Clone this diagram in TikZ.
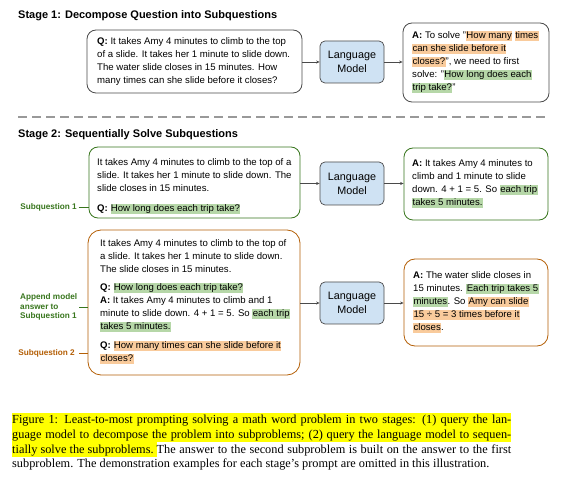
\documentclass[tikz,border=0pt]{standalone}
\usepackage{fontspec}
\setmainfont{Liberation Sans}
\newfontfamily\capfont{Liberation Serif}
\usetikzlibrary{arrows.meta}
\definecolor{lmblue}{HTML}{CFE2F3}
\definecolor{hlgreen}{HTML}{B6D7A8}
\definecolor{hlorange}{HTML}{F9CB9C}
\definecolor{dgreen}{HTML}{38761D}
\definecolor{dorange}{HTML}{B45F06}
\definecolor{bordergray}{HTML}{4A4A4A}
\definecolor{dashgray}{HTML}{999999}
\definecolor{capyellow}{HTML}{FFFF00}
\newcommand\hstrut{\rule[-2.4pt]{0pt}{9pt}}
\newcommand\hg[1]{{\setlength{\fboxsep}{0.4pt}\colorbox{hlgreen}{\hstrut #1}}}
\newcommand\ho[1]{{\setlength{\fboxsep}{0.4pt}\colorbox{hlorange}{\hstrut #1}}}
\newcommand\capstrut{\rule[-3.8pt]{0pt}{14.8pt}}
\newcommand\capbox[1]{{\setlength{\fboxsep}{0pt}\colorbox{capyellow}{#1}}}
\tikzset{
  panel/.style={draw=bordergray, line width=0.8pt, rounded corners=9pt, inner sep=0pt},
  lmbox/.style={draw=bordergray, line width=0.7pt, fill=lmblue, rounded corners=5pt,
    minimum width=64pt, minimum height=42pt, inner sep=0pt, align=center,
    font=\fontsize{10.8}{14}\selectfont},
  body/.style={anchor=north west, inner sep=0pt, align=left, font=\fontsize{9.6}{13}\selectfont},
  stagetitle/.style={anchor=west, inner sep=0pt, font=\fontsize{11}{13}\selectfont\bfseries},
  sidelabel/.style={inner sep=0pt, align=left, font=\fontsize{8.2}{9.8}\selectfont\bfseries},
  arr/.style={-{Stealth[length=3.5pt,width=3pt]}, line width=0.6pt, draw=bordergray},
}
\begin{document}
\begin{tikzpicture}[x=1pt,y=-1pt]
\useasboundingbox[fill=white] (0,0) rectangle (565,486);

% ---------- Stage 1 ----------
\node[stagetitle] (st1) at (18,16) {Stage 1: Decompose Question into Subquestions};

\node[panel, minimum width=215pt, minimum height=63pt] (q1) at (194.5,61.5) {};
\node[body] (q1t) at (97,35.6) {\strut\textbf{Q:} It takes Amy 4 minutes to climb to the top\\
\strut of a slide. It takes her 1 minute to slide down.\\
\strut The water slide closes in 15 minutes. How\\
\strut many times can she slide before it closes?};

\node[lmbox] (lm1) at (352,62) {Language\\Model};

\node[panel, minimum width=146pt, minimum height=79pt] (a1) at (476,62.5) {};
\node[body] (a1t) at (412,29.1) {\strut\textbf{A:} To solve "\ho{How many} \ho{times}\\
\strut\ho{can she slide before it}\\
\strut\ho{closes?}", we need to first\\
\strut solve: "\hg{How long does each}\\
\strut\hg{trip take?}"};

\draw[arr] (q1.east |- lm1.west) -- (lm1.west);
\draw[arr] (lm1.east) -- (lm1.east -| a1.west);

% ---------- divider ----------
\coordinate (dl) at (18,117.5);
\coordinate (dr) at (548,117.5);
\draw[dashgray, line width=2pt, dash pattern=on 9pt off 5pt] (dl) -- (dr);

% ---------- Stage 2 ----------
\node[stagetitle] (st2) at (18,135) {Stage 2: Sequentially Solve Subquestions};

% Subquestion 1
\node[panel, draw=dgreen, minimum width=211pt, minimum height=71pt] (q2) at (194.5,182.5) {};
\node[body] (q2t) at (97,155.8) {\strut It takes Amy 4 minutes to climb to the top of a\\
\strut slide. It takes her 1 minute to slide down. The\\
\strut slide closes in 15 minutes.\\[7pt]
\strut\textbf{Q:} \hg{How long does each trip take?}};

\node[lmbox, minimum height=43pt] (lm2) at (352,183.5) {Language\\Model};

\node[panel, draw=dgreen, minimum width=144pt, minimum height=72pt] (a2) at (476,184) {};
\node[body] (a2t) at (412,157.1) {\strut\textbf{A:} It takes Amy 4 minutes to\\
\strut climb and 1 minute to slide\\
\strut down. 4 + 1 = 5. So \hg{each trip}\\
\strut\hg{takes 5 minutes.}};

\draw[arr] (q2.east |- lm2.west) -- (lm2.west);
\draw[arr] (lm2.east) -- (lm2.east -| a2.west);

\node[sidelabel, text=dgreen, anchor=east] (sq1) at (77,207) {Subquestion 1};
\draw[dgreen, line width=0.7pt] ([xshift=1.5pt]sq1.east) -- (sq1.east -| q2.west);

% Subquestion 2
\node[panel, draw=dorange, rounded corners=13pt, minimum width=212pt, minimum height=145pt] (q3) at (194,302.5) {};
\node[body] (q3t) at (100,237.1) {\strut It takes Amy 4 minutes to climb to the top of\\
\strut a slide. It takes her 1 minute to slide down.\\
\strut The slide closes in 15 minutes.\\[5pt]
\strut\textbf{Q:} \hg{How long does each trip take?}\\
\strut\textbf{A:} It takes Amy 4 minutes to climb and 1\\
\strut minute to slide down. 4 + 1 = 5. So \hg{each trip}\\
\strut\hg{takes 5 minutes.}\\[6pt]
\strut\textbf{Q:} \ho{How many times can she slide before it}\\
\strut\ho{closes?}};

\node[lmbox] (lm3) at (352,303) {Language\\Model};

\node[panel, draw=dorange, rounded corners=11pt, minimum width=144pt, minimum height=87pt] (a3) at (476,302.5) {};
\node[body] (a3t) at (413,269.1) {\strut\textbf{A:} The water slide closes in\\
\strut 15 minutes. \hg{Each trip takes 5}\\
\strut\hg{minutes}. So \ho{Amy can slide}\\
\strut\ho{15 ÷ 5 = 3 times before it}\\
\strut\ho{closes}.};

\draw[arr] (q3.east |- lm3.west) -- (lm3.west);
\draw[arr] (lm3.east) -- (lm3.east -| a3.west);

\node[sidelabel, text=dgreen, anchor=west] (ap) at (20,307) {Append model\\answer to\\Subquestion 1};
\draw[dgreen, line width=0.7pt] ([xshift=2pt]ap.east) -- (ap.east -| q3.west);

\node[sidelabel, text=dorange, anchor=east] (sq2) at (75,353) {Subquestion 2};
\draw[dorange, line width=0.7pt] ([xshift=4pt]sq2.east) -- (sq2.east -| q3.west);

% ---------- caption ----------
\node[anchor=north west, inner sep=0pt, align=left,
      font=\capfont\fontsize{12.3}{14.8}\selectfont] (cap) at (12,412.3) {%
\capbox{\makebox[499pt][s]{\capstrut Figure 1: Least-to-most prompting solving a math word problem in two stages: (1) query the lan-}}\\
\capbox{\makebox[499pt][s]{\capstrut guage model to decompose the problem into subproblems; (2) query the language model to sequen-}}\\
\makebox[499pt][s]{\capbox{\capstrut tially solve the subproblems.\ }The answer to the second subproblem is built on the answer to the first}\\
\capstrut subproblem. The demonstration examples for each stage’s prompt are omitted in this illustration.};
\end{tikzpicture}
\end{document}
